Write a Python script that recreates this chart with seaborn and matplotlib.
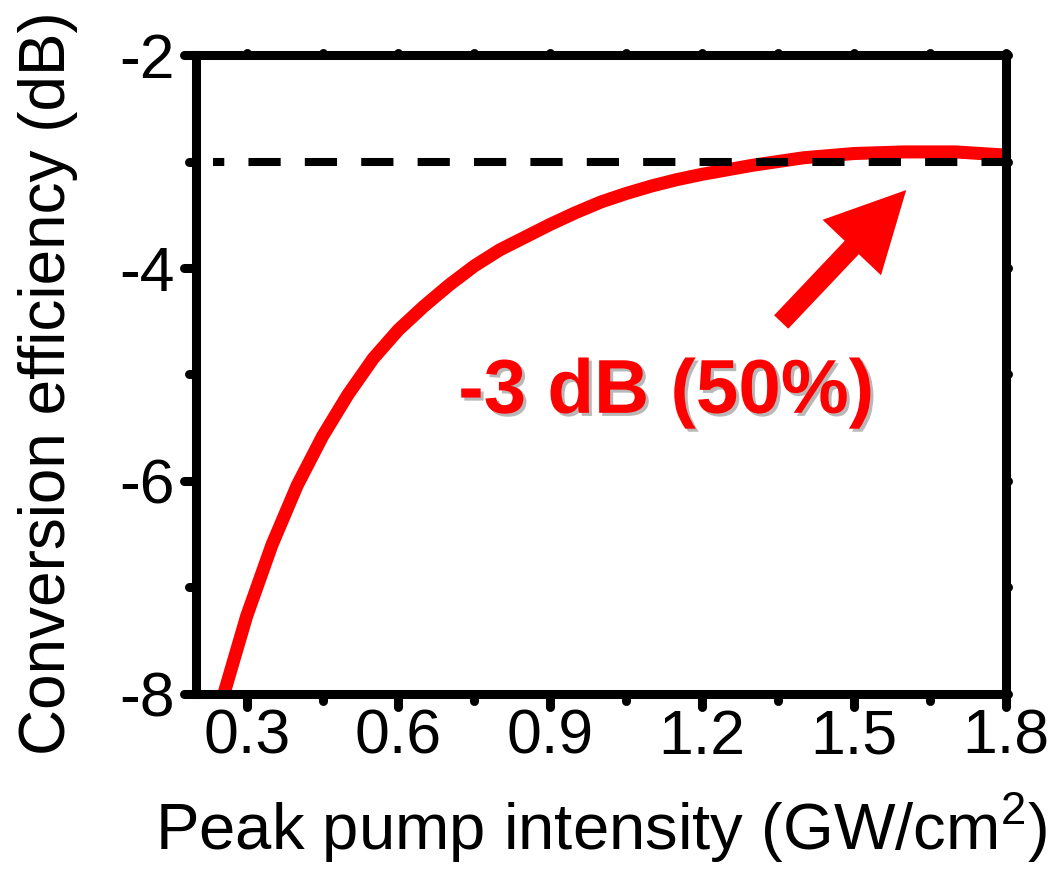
import matplotlib
matplotlib.use("Agg")
import matplotlib.pyplot as plt
import matplotlib.patheffects as pe
import matplotlib.lines as mlines
from matplotlib.markers import MarkerStyle
import seaborn as sns
import pandas as pd

# Data
intensity = [0.255, 0.30, 0.35, 0.40, 0.45, 0.50, 0.55, 0.60, 0.65, 0.70, 0.75,
             0.80, 0.85, 0.90, 0.95, 1.00, 1.05, 1.10, 1.15, 1.20, 1.30, 1.40, 1.50,
             1.60, 1.70, 1.80]
efficiency = [-8.00, -7.27, -6.60, -6.04, -5.58, -5.19, -4.85, -4.58, -4.36, -4.16, -3.98,
              -3.83, -3.71, -3.59, -3.48, -3.38, -3.30, -3.23, -3.17, -3.12, -3.035, -2.965,
              -2.925, -2.91, -2.91, -2.94]
ref_level = -3.0
x_ticks = [0.3, 0.6, 0.9, 1.2, 1.5, 1.8]
y_ticks = [-8, -6, -4, -2]
annotation = "-3 dB (50%)"

df = pd.DataFrame({"x": intensity, "y": efficiency})

sns.set_theme(style="ticks")
plt.rcParams["font.family"] = ["Liberation Sans", "DejaVu Sans"]
plt.rcParams["axes.unicode_minus"] = False
plt.rcParams["mathtext.fontset"] = "custom"
plt.rcParams["mathtext.rm"] = "Liberation Sans"
plt.rcParams["text.color"] = "black"
plt.rcParams["axes.labelcolor"] = "black"
plt.rcParams["xtick.color"] = "black"
plt.rcParams["ytick.color"] = "black"
plt.rcParams["xtick.labelcolor"] = "black"
plt.rcParams["ytick.labelcolor"] = "black"

fig = plt.figure(figsize=(10.55, 8.69), dpi=100)
ax = fig.add_axes([0.1858, 0.2014, 0.9535 - 0.1858, 0.9367 - 0.2014])

sns.lineplot(data=df, x="x", y="y", ax=ax, color="#ff0000", lw=9.4,
             solid_capstyle="butt", solid_joinstyle="round", zorder=2)
ax.hlines(ref_level, 0.2336, 1.8, colors="black", lw=5.8,
          linestyles=[(2.6, (4, 3))], zorder=3)

ax.set_xlim(0.2, 1.8)
ax.set_ylim(-8, -2)
ax.set_xticks(x_ticks)
ax.set_xticklabels([f"{v:.1f}" for v in x_ticks])
ax.set_yticks(y_ticks)
ax.set_yticklabels([str(v) for v in y_ticks])
ax.set_xticks([0.45, 0.75, 1.05, 1.35, 1.65], minor=True)
ax.set_yticks([-7, -5, -3], minor=True)

for s in ax.spines.values():
    s.set_linewidth(6.5)
    s.set_color("black")

ax.tick_params(axis="both", which="major", direction="out", length=9, width=6.5,
               labelsize=45, color="black", labelcolor="black")
ax.tick_params(axis="both", which="minor", direction="out", length=5, width=6.5,
               color="black")
ax.tick_params(axis="x", which="major", pad=1)
ax.tick_params(axis="y", which="major", pad=6)
ax.tick_params(axis="both", which="both", top=True, right=True)
for t in ax.xaxis.get_major_ticks() + ax.xaxis.get_minor_ticks():
    t.tick2line.set_markersize(1.5)
for t in ax.yaxis.get_major_ticks() + ax.yaxis.get_minor_ticks():
    t.tick2line.set_markersize(1.5)

# round caps on ticks
for t in ax.xaxis.get_major_ticks() + ax.xaxis.get_minor_ticks():
    t.tick1line.set_marker(MarkerStyle(mlines.TICKDOWN, capstyle="round"))
    t.tick2line.set_marker(MarkerStyle(mlines.TICKUP, capstyle="round"))
for t in ax.yaxis.get_major_ticks() + ax.yaxis.get_minor_ticks():
    t.tick1line.set_marker(MarkerStyle(mlines.TICKLEFT, capstyle="round"))
    t.tick2line.set_marker(MarkerStyle(mlines.TICKRIGHT, capstyle="round"))

ax.set_xlabel("Peak pump intensity (GW/cm$^2$)", fontsize=47, labelpad=17, color="black")
ax.set_ylabel("Conversion efficiency (dB)", fontsize=46, color="black")
ax.yaxis.set_label_coords(-0.1457, 0.487)

txt = ax.text(0.718, -5.36, annotation, color="#ff0000", fontsize=55,
              fontweight="bold", ha="left", va="baseline", zorder=4)
txt.set_path_effects([pe.SimplePatchShadow(offset=(2.2, -2.2),
                                           shadow_rgbFace=(0.72, 0.72, 0.72), alpha=1.0),
                      pe.Normal()])

ax.annotate("", xy=(1.603, -3.268), xytext=(1.356, -4.507),
            arrowprops=dict(arrowstyle="simple,head_length=5.7,head_width=5.8,tail_width=1.4",
                            mutation_scale=10, color="#ff0000", lw=0,
                            shrinkA=0, shrinkB=0), zorder=4)

fig.savefig("out.png", dpi=100, facecolor="white")
